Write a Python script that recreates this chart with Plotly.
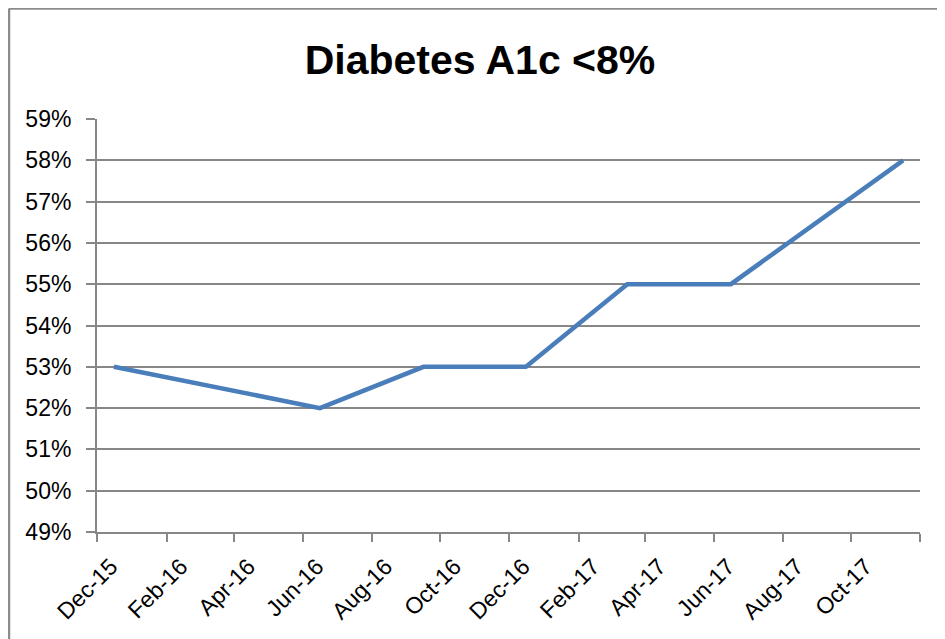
import pandas as pd
import plotly.graph_objects as go

# ---- data ----
months = ["2015-12", "2016-06", "2016-09", "2016-12", "2017-03", "2017-06", "2017-11"]
values = [0.53, 0.52, 0.53, 0.53, 0.55, 0.55, 0.58]
tick_months = ["2015-12", "2016-02", "2016-04", "2016-06", "2016-08", "2016-10",
               "2016-12", "2017-02", "2017-04", "2017-06", "2017-08", "2017-10", "2017-12"]
tick_labels = ["Dec-15", "Feb-16", "Apr-16", "Jun-16", "Aug-16", "Oct-16",
               "Dec-16", "Feb-17", "Apr-17", "Jun-17", "Aug-17", "Oct-17", ""]
title_text = "Diabetes A1c <8%"

# Excel date axis (base unit = months) plots each point in the middle of its month
x_dates = pd.to_datetime(months) + pd.Timedelta(days=15)
tick_dates = pd.to_datetime(tick_months)

# page body has an 8px margin, so the figure is sized/offset accordingly
W, H = 937, 631
L, R, T, B = 89, 25, 111, 107
pw, ph = W - L - R, H - T - B

grey = "#878787"
font_family = "Liberation Sans, Arial, sans-serif"

fig = go.Figure()
fig.add_trace(go.Scatter(
    x=x_dates, y=values, mode="lines",
    line=dict(color="#4A7EBB", width=4.5),
    showlegend=False,
))

fig.update_layout(
    width=W, height=H,
    margin=dict(l=L, r=R, t=T, b=B, autoexpand=False),
    paper_bgcolor="white", plot_bgcolor="white",
    title=dict(text="<b>" + title_text + "</b>", x=472 / W, xanchor="center",
               y=1 - 52 / H, yanchor="middle",
               font=dict(family=font_family, size=41, color="black")),
    font=dict(family=font_family, color="black"),
)

fig.update_xaxes(
    type="date",
    range=[tick_dates[0], tick_dates[-1]],
    tickmode="array", tickvals=tick_dates, ticktext=tick_labels,
    tickangle=-45,
    ticks="outside", ticklen=8, tickwidth=2, tickcolor=grey,
    showline=True, linecolor=grey, linewidth=2,
    showgrid=False, zeroline=False,
    tickfont=dict(size=23, color="black"),
    ticklabelshift=14, ticklabelstandoff=2,
    automargin=False,
)
fig.update_yaxes(
    range=[0.49, 0.59], dtick=0.01, tick0=0.49, tickformat=".0%",
    ticks="outside", ticklen=9, tickwidth=2, tickcolor=grey,
    showline=True, linecolor=grey, linewidth=2,
    showgrid=True, gridcolor=grey, gridwidth=1.6,
    zeroline=False,
    tickfont=dict(size=23, color="black"),
    ticklabelstandoff=10,
    automargin=False,
)

# outer chart border (top and left edges visible)
bx = (1 - L) / pw
by = (H - B - 0.5) / ph
fig.add_shape(type="line", xref="paper", yref="paper", x0=bx, x1=(W - L) / pw + 0.01,
              y0=by, y1=by, line=dict(color="#8C8C8C", width=2.5))
fig.add_shape(type="line", xref="paper", yref="paper", x0=bx, x1=bx,
              y0=by, y1=-(B + 5) / ph, line=dict(color="#8C8C8C", width=2.5))

fig.write_html("out.html")
